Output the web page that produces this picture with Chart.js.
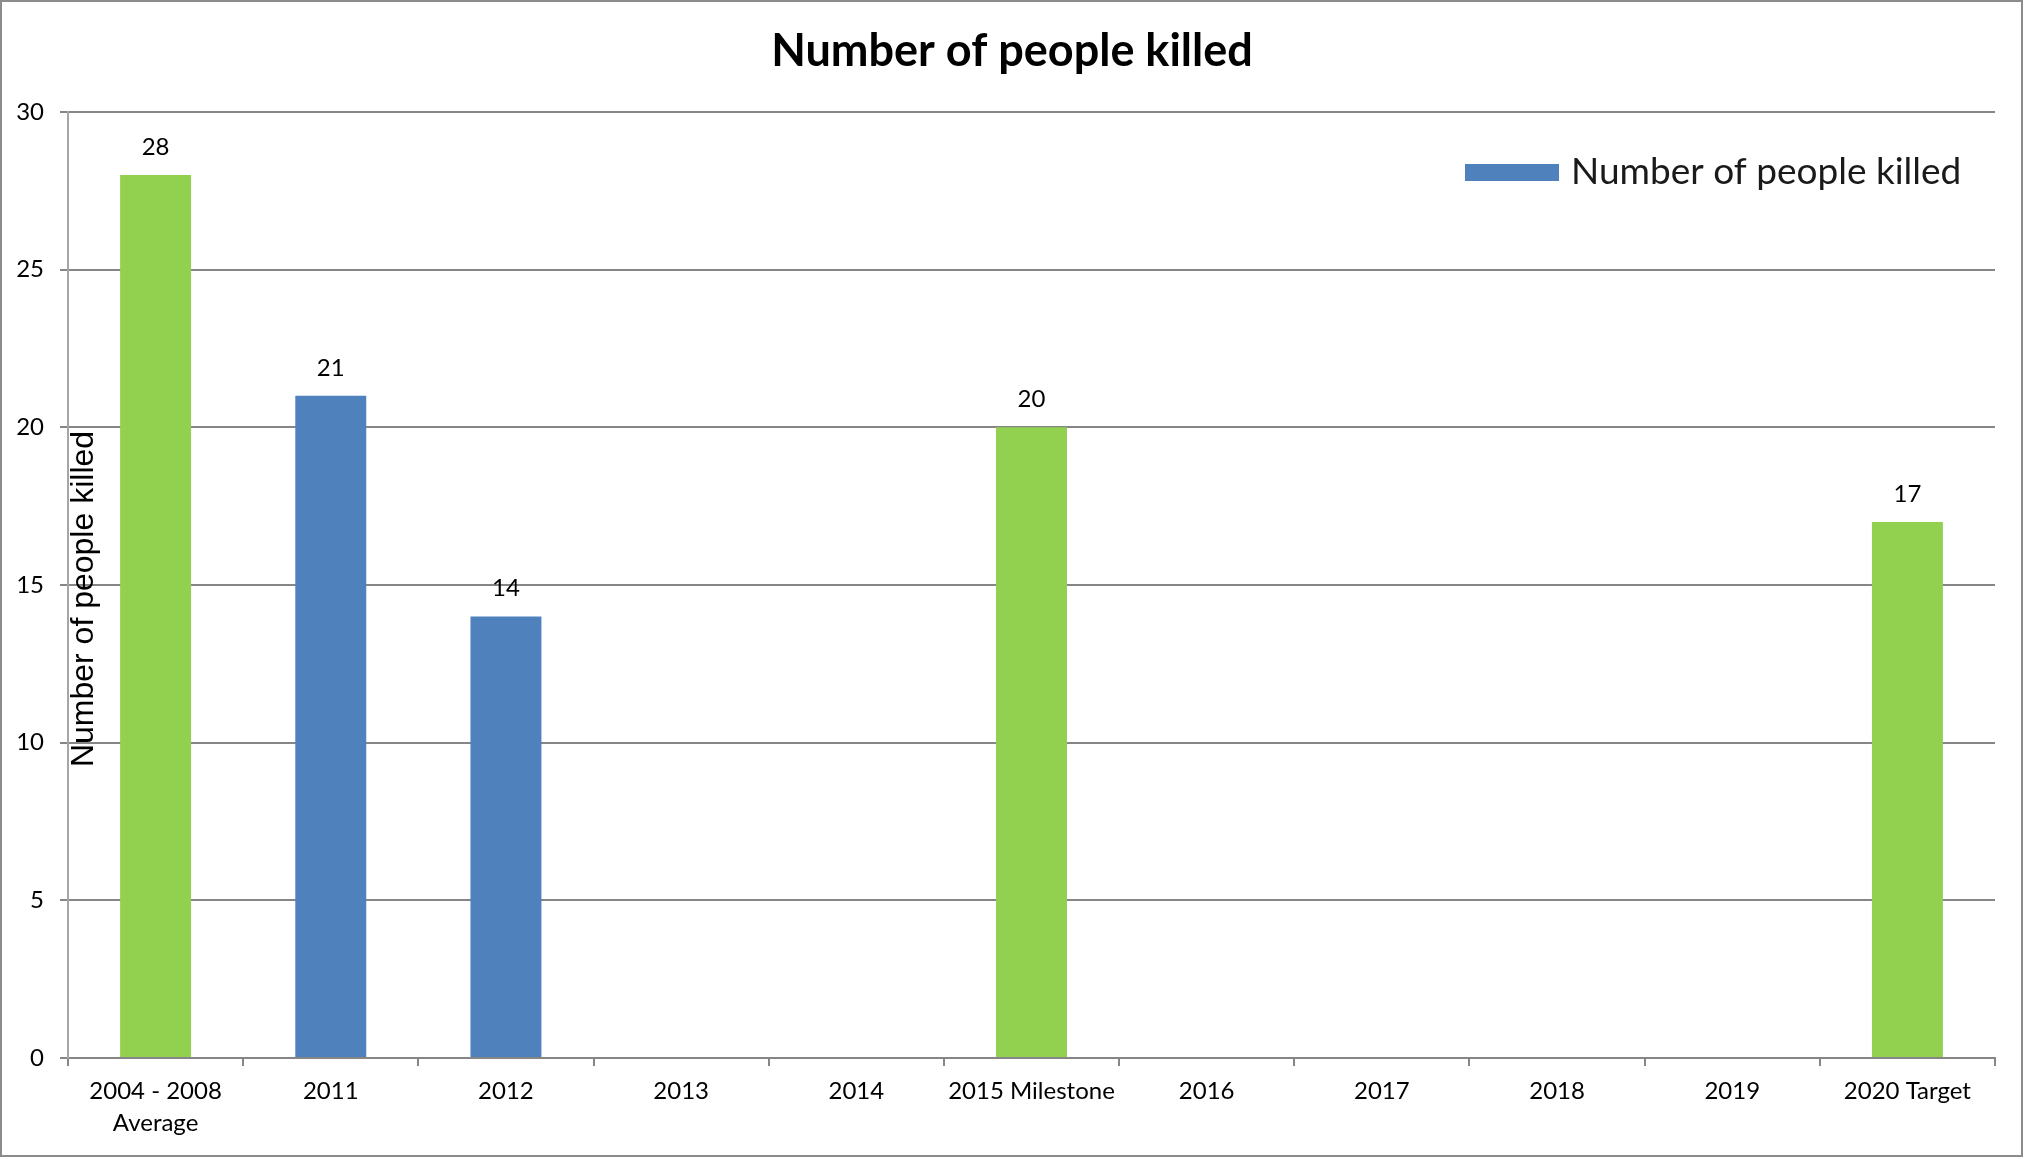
<!DOCTYPE html>
<html>
<head>
<meta charset="utf-8">
<script src="https://cdn.jsdelivr.net/npm/chart.js@4.4.1/dist/chart.umd.min.js"></script>
<style>
html, body { margin: 0; padding: 0; background: #fff; }
canvas { display: block; }
</style>
</head>
<body>
<canvas id="chart" width="2024" height="1159"></canvas>
<script>
// chart data
var categories = [["2004 - 2008", "Average"], "2011", "2012", "2013", "2014", "2015 Milestone", "2016", "2017", "2018", "2019", "2020 Target"];
var killed = [28, 21, 14, null, null, 20, null, null, null, null, 17];
var barColors = ["#92D050", "#4F81BD", "#4F81BD", "#4F81BD", "#4F81BD", "#92D050", "#4F81BD", "#4F81BD", "#4F81BD", "#4F81BD", "#92D050"];
var yMin = 0, yMax = 30, yStep = 5;
var chartTitle = "Number of people killed";
var legendLabel = "Number of people killed";
var yAxisTitle = "Number of people killed";

var gridGrey = "#868686";

// white background + outer frame
var framePlugin = {
	id: "frame",
	beforeDraw: function(chart) {
		var ctx = chart.ctx;
		ctx.save();
		ctx.fillStyle = "#fff";
		ctx.fillRect(0, 0, chart.width, chart.height);
		ctx.restore();
	},
	afterDraw: function(chart) {
		var ctx = chart.ctx;
		ctx.save();
		ctx.strokeStyle = "#8c8c8c";
		ctx.lineWidth = 2;
		ctx.strokeRect(1, 1, chart.width - 3, chart.height - 4);
		ctx.restore();
	}
};

// title, legend, y title and value labels
var textPlugin = {
	id: "texts",
	afterDraw: function(chart) {
		var ctx = chart.ctx;
		ctx.save();

		// title
		ctx.fillStyle = "#000";
		ctx.font = "bold 45px Lato";
		ctx.textAlign = "center";
		ctx.textBaseline = "middle";
		ctx.fillText(chartTitle, chart.width / 2, 51);

		// legend
		ctx.fillStyle = "#4F81BD";
		ctx.fillRect(1465, 164, 94, 17);
		ctx.fillStyle = "#1a1a1a";
		ctx.font = "37px Lato";
		ctx.textAlign = "left";
		ctx.fillText(legendLabel, 1571, 172);

		// values over bars
		var meta = chart.getDatasetMeta(0);
		ctx.fillStyle = "#000";
		ctx.font = "24px Lato";
		ctx.textAlign = "center";
		meta.data.forEach(function(bar, i) {
			if (killed[i] == null) return;
			ctx.fillText(String(killed[i]), bar.x, bar.y - 28);
		});

		// y axis title, sits over the plot like the original
		ctx.translate(84, 599);
		ctx.rotate(-Math.PI / 2);
		ctx.font = "32px 'Liberation Sans'";
		ctx.fillText(yAxisTitle, 0, 0);

		ctx.restore();
	}
};

new Chart(document.getElementById("chart"), {
	type: "bar",
	data: {
		labels: categories,
		datasets: [{
			label: legendLabel,
			data: killed,
			backgroundColor: barColors,
			borderWidth: 0,
			barPercentage: 0.405,
			categoryPercentage: 1
		}]
	},
	options: {
		responsive: false,
		animation: false,
		layout: {
			padding: { top: 112, right: 29, left: 0, bottom: 0 }
		},
		plugins: {
			legend: { display: false },
			title: { display: false },
			tooltip: { enabled: false }
		},
		scales: {
			x: {
				afterFit: function(scale) { scale.height = 101; },
				grid: {
					drawOnChartArea: false,
					drawTicks: true,
					tickLength: 8,
					tickColor: gridGrey,
					lineWidth: 2
				},
				border: { color: gridGrey, width: 2 },
				ticks: {
					color: "#000",
					font: { family: "Lato", size: 24, lineHeight: 1.35 },
					padding: 9,
					maxRotation: 0,
					autoSkip: false
				}
			},
			y: {
				min: yMin,
				max: yMax,
				afterFit: function(scale) { scale.width = 68; },
				grid: {
					color: gridGrey,
					lineWidth: 2,
					tickLength: 8,
					tickColor: gridGrey
				},
				border: { color: "#a6a6a6", width: 2 },
				ticks: {
					stepSize: yStep,
					color: "#000",
					font: { family: "Lato", size: 24 },
					padding: 16
				}
			}
		}
	},
	plugins: [framePlugin, textPlugin]
});
</script>
</body>
</html>
